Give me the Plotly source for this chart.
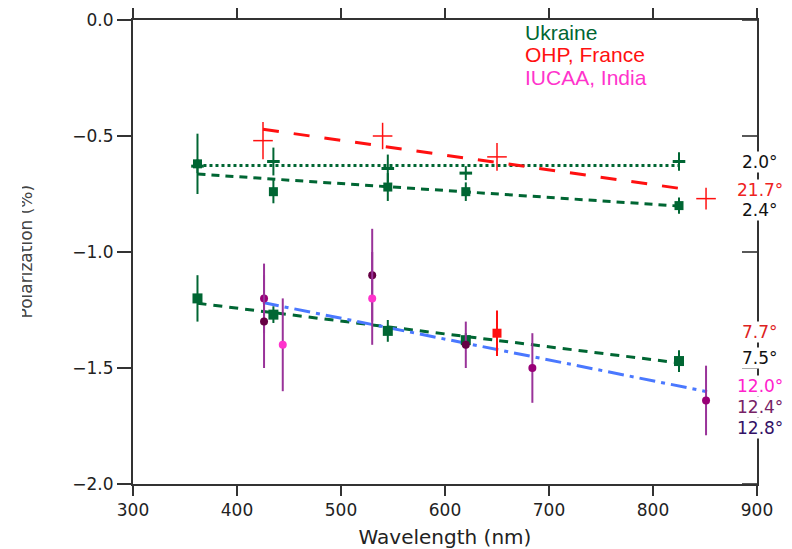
import plotly.graph_objects as go

# ---------------- data ----------------
# Ukraine, upper group (2.0 deg, dotted fit)
ukr_a_wl = [362, 435, 545, 620, 825]
ukr_a_pol = [-0.63, -0.61, -0.64, -0.66, -0.61]
ukr_a_err = [0.03, 0.06, 0.06, 0.03, 0.04]

# Ukraine, upper group (2.4 deg, dashed fit)
ukr_b_wl = [362, 435, 545, 620, 825]
ukr_b_pol = [-0.62, -0.74, -0.72, -0.74, -0.80]
ukr_b_err = [0.13, 0.05, 0.06, 0.04, 0.035]

# OHP, France, upper group (21.7 deg)
ohp_a_wl = [425, 540, 650, 851]
ohp_a_pol = [-0.52, -0.50, -0.59, -0.77]
ohp_a_err = [0.08, 0.057, 0.06, 0.047]

# Ukraine, lower group (7.5 deg)
ukr_c_wl = [362, 435, 545, 620, 825]
ukr_c_pol = [-1.20, -1.27, -1.34, -1.38, -1.47]
ukr_c_err = [0.10, 0.036, 0.047, 0.03, 0.047]

# OHP, France, lower group (7.7 deg)
ohp_b_wl = [650]
ohp_b_pol = [-1.35]
ohp_b_err = [0.098]

# IUCAA, India (12.0, 12.4, 12.8 deg)
iuc_a_wl = [444, 530]
iuc_a_pol = [-1.40, -1.20]
iuc_a_err = [0.20, 0.20]
iuc_b_wl = [426, 684, 851]
iuc_b_pol = [-1.20, -1.50, -1.64]
iuc_b_err = [0.15, 0.15, 0.15]
iuc_c_wl = [426, 530, 620]
iuc_c_pol = [-1.30, -1.10, -1.40]
iuc_c_err = [0.20, 0.20, 0.10]

# Linear fits (end points)
fit_a_wl, fit_a_pol = [362, 825], [-0.627, -0.627]
fit_b_wl, fit_b_pol = [362, 825], [-0.664, -0.802]
fit_ohp_wl, fit_ohp_pol = [425, 837], [-0.471, -0.733]
fit_c_wl, fit_c_pol = [362, 823], [-1.221, -1.477]
fit_iuc_wl, fit_iuc_pol = [425, 852], [-1.218, -1.602]

# Polarization angle of each fit
angle_labels = ["2.0°", "21.7°", "2.4°", "7.7°", "7.5°", "12.0°", "12.4°", "12.8°"]
site_labels = ["Ukraine", "OHP, France", "IUCAA, India"]
x_ticks = [300, 400, 500, 600, 700, 800, 900]
y_ticks = [0.0, -0.5, -1.0, -1.5, -2.0]

# ---------------- styles ----------------
GREEN = "#006633"
RED = "#ff1010"
PINK = "#ff33cc"
PURPLE = "#990077"
DARK = "#660044"
BAR_PURPLE = "#993399"
BLUE = "#4a78ff"
FONT = "DejaVu Sans"

fig = go.Figure()


def fit_line(x, y, color, dash):
    fig.add_trace(go.Scatter(x=x, y=y, mode="lines",
                             line=dict(color=color, width=3, dash=dash),
                             hoverinfo="skip"))


def points(x, y, err, color, symbol, size, bar_color=None, bar_w=2,
           mline=0):
    fig.add_trace(go.Scatter(
        x=x, y=y, mode="markers",
        marker=dict(color=color, symbol=symbol, size=size,
                    line=dict(color=color, width=mline)),
        error_y=dict(type="data", array=err, visible=True,
                     color=bar_color or color, thickness=bar_w, width=0),
    ))


fit_line(fit_a_wl, fit_a_pol, GREEN, "3px,3px")
fit_line(fit_b_wl, fit_b_pol, GREEN, "8px,6px")
fit_line(fit_ohp_wl, fit_ohp_pol, RED, "16px,15px")
fit_line(fit_c_wl, fit_c_pol, GREEN, "9px,7px")
fit_line(fit_iuc_wl, fit_iuc_pol, BLUE, "16px,6px,4px,6px")

points(ukr_a_wl, ukr_a_pol, ukr_a_err, GREEN, "line-ew", 9, mline=3)
points(ukr_b_wl, ukr_b_pol, ukr_b_err, GREEN, "square", 9)
points(ohp_a_wl, ohp_a_pol, ohp_a_err, RED, "line-ew", 14, bar_w=1.5,
       mline=1.5)
points(ukr_c_wl, ukr_c_pol, ukr_c_err, GREEN, "square", 10)
points(ohp_b_wl, ohp_b_pol, ohp_b_err, RED, "square", 9)
points(iuc_b_wl, iuc_b_pol, iuc_b_err, PURPLE, "circle", 8, BAR_PURPLE)
points(iuc_c_wl, iuc_c_pol, iuc_c_err, DARK, "circle", 8, BAR_PURPLE)
points(iuc_a_wl, iuc_a_pol, iuc_a_err, PINK, "circle", 8, BAR_PURPLE)

axis_common = dict(showgrid=False, zeroline=False, linecolor="#333333",
                   tickcolor="#333333", tickwidth=1.5, automargin=False,
                   tickfont=dict(family=FONT, size=17, color="#222222"))

fig.update_layout(
    width=792, height=549,
    margin=dict(l=133, r=35, t=20, b=65, autoexpand=False),
    paper_bgcolor="white", plot_bgcolor="white",
    showlegend=False,
    xaxis=dict(range=[300, 900], tickvals=x_ticks, ticks="outside",
               ticklen=10, linewidth=1.5, mirror="ticks",
               ticklabelstandoff=0,
               title=dict(text="Wavelength (nm)", standoff=12,
                          font=dict(family=FONT, size=20, color="#222222")),
               **axis_common),
    yaxis=dict(range=[-2.0, 0.0], tickvals=y_ticks, tickformat=".1f",
               ticks="outside", ticklen=14, linewidth=2, mirror=True,
               **axis_common),
)

# inward-pointing ticks along the right-hand frame
for v in y_ticks:
    fig.add_shape(type="line", xref="paper", yref="y",
                  x0=1 - 15 / 624, x1=1, y0=v, y1=v,
                  line=dict(color="#222222", width=1.5))

# axis title on the far left, its upper part cut off at the page edge
fig.add_annotation(
    text="Polarization (%)", textangle=-90, xref="paper", yref="paper",
    x=(35.5 - 133) / 624, y=0.5, xanchor="right", showarrow=False,
    borderpad=0, borderwidth=0,
    font=dict(family=FONT, size=17, color="#444444"))
# white band over the page edge that hides the top of the title
fig.add_annotation(
    text="&nbsp;", xref="paper", yref="paper", x=-133 / 624, y=0.5,
    xanchor="left", showarrow=False, width=22, height=200,
    bgcolor="white", borderpad=0, borderwidth=0,
    font=dict(family=FONT, size=12, color="white"))

# site names
site_colors = [GREEN, RED, PINK]
site_y = [-0.056, -0.147, -0.246]
for text, col, yy in zip(site_labels, site_colors, site_y):
    fig.add_annotation(text=text, x=675, y=yy, xanchor="left",
                       showarrow=False,
                       font=dict(family="Liberation Sans", size=21,
                                 color=col))

# polarization angle labels on the right frame
angle_colors = ["#111111", "#ee2222", "#111111", "#dd2222", "#111111",
                "#ff22cc", "#772266", "#331166"]
angle_y = [-0.612, -0.733, -0.819, -1.345, -1.457, -1.578, -1.668, -1.759]
for text, col, yy in zip(angle_labels, angle_colors, angle_y):
    fig.add_annotation(text=text, xref="paper", x=1.005, y=yy,
                       xanchor="center", showarrow=False,
                       bgcolor="white", borderpad=0,
                       font=dict(family=FONT, size=17, color=col))

fig.write_html("out.html")
